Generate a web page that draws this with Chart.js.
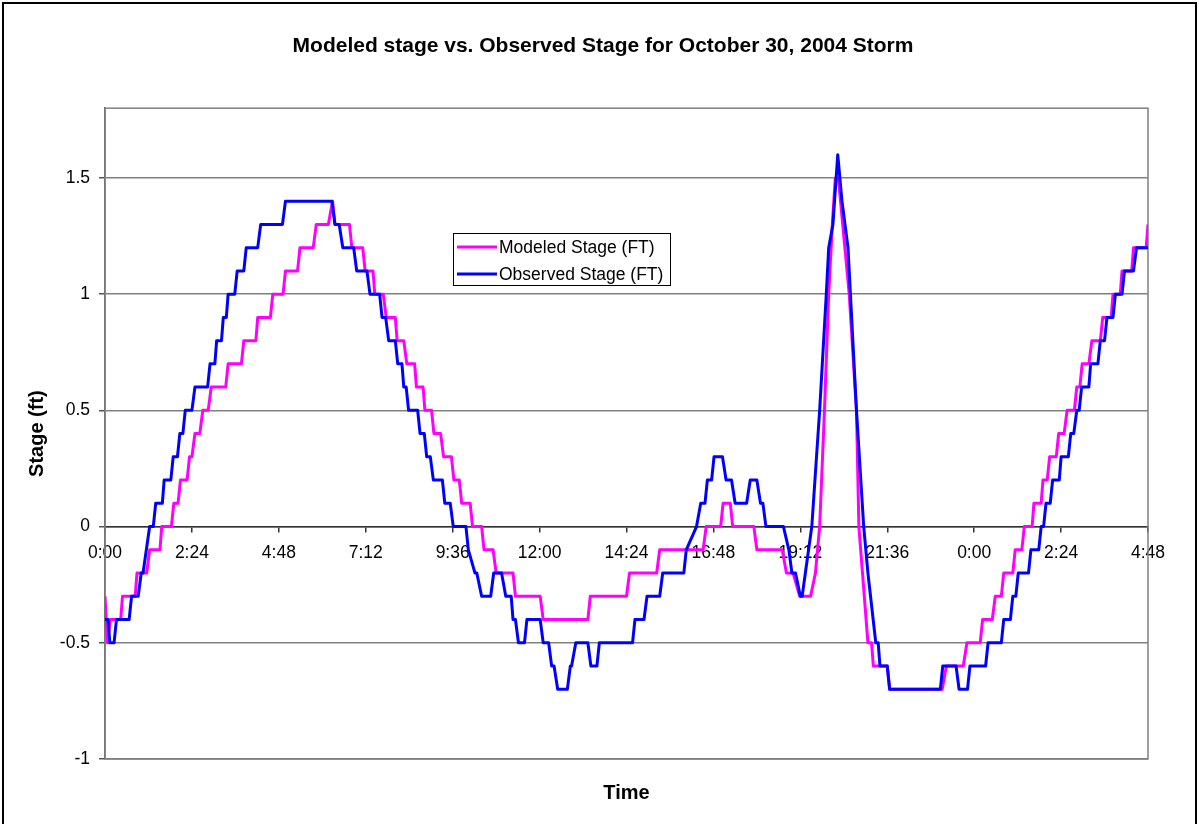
<!DOCTYPE html>
<html>
<head>
<meta charset="utf-8">
<title>Modeled vs Observed Stage</title>
<script src="https://cdn.jsdelivr.net/npm/chart.js@4.4.1/dist/chart.umd.min.js"></script>
<style>
html, body { margin: 0; padding: 0; background: #fff; overflow: hidden; }
#frame { position: absolute; left: 2px; top: 2px; width: 1195px; height: 900px; border: 2px solid #000; box-sizing: border-box; }
#wrap { position: absolute; left: 0; top: 0; width: 1199px; height: 824px; }
</style>
</head>
<body>
<div id="frame"></div>
<div id="wrap"><canvas id="stageChart" width="1199" height="824"></canvas></div>
<script>
// time in minutes from 0:00 on Oct 30, stage in ft
const obsTime = [
  0, 5, 8, 15, 19, 40, 44, 55, 60, 63,
  74, 80, 84, 95, 98, 109, 113, 120, 124, 129,
  133, 144, 149, 170, 174, 182, 185, 193, 196, 201,
  204, 215, 219, 230, 234, 253, 258, 294, 299, 376,
  381, 388, 394, 412, 417, 434, 439, 455, 459, 465,
  470, 481, 485, 492, 495, 499, 503, 518, 522, 529,
  533, 539, 544, 559, 563, 572, 577, 598, 602, 613,
  616, 624, 639, 644, 657, 664, 673, 676, 680, 685,
  695, 699, 721, 726, 735, 740, 744, 750, 766, 771,
  773, 780, 800, 805, 815, 819, 874, 878, 893, 898,
  919, 924, 959, 963, 980, 987, 994, 998, 1005, 1009,
  1023, 1029, 1038, 1044, 1063, 1069, 1080, 1086, 1090, 1095,
  1124, 1133, 1138, 1144, 1152, 1155, 1171, 1184, 1195, 1199,
  1206, 1214, 1221, 1231, 1245, 1257, 1264, 1277, 1281, 1284,
  1296, 1300, 1384, 1388, 1410, 1415, 1429, 1433, 1459, 1463,
  1485, 1489, 1500, 1504, 1509, 1513, 1530, 1534, 1547, 1551,
  1555, 1559, 1566, 1570, 1581, 1584, 1596, 1600, 1605, 1610,
  1614, 1618, 1630, 1633, 1645, 1649, 1656, 1660, 1670, 1674,
  1685, 1689, 1704, 1709, 1728
];
const obsStage = [
  -0.4, -0.4, -0.5, -0.5, -0.4, -0.4, -0.3, -0.3, -0.2, -0.2,
  0, 0, 0.1, 0.1, 0.2, 0.2, 0.3, 0.3, 0.4, 0.4,
  0.5, 0.5, 0.6, 0.6, 0.7, 0.7, 0.8, 0.8, 0.9, 0.9,
  1.0, 1.0, 1.1, 1.1, 1.2, 1.2, 1.3, 1.3, 1.4, 1.4,
  1.3, 1.3, 1.2, 1.2, 1.1, 1.1, 1.0, 1.0, 0.9, 0.9,
  0.8, 0.8, 0.7, 0.7, 0.6, 0.6, 0.5, 0.5, 0.4, 0.4,
  0.3, 0.3, 0.2, 0.2, 0.1, 0.1, 0, 0, -0.1, -0.2,
  -0.2, -0.3, -0.3, -0.2, -0.2, -0.3, -0.3, -0.4, -0.4, -0.5,
  -0.5, -0.4, -0.4, -0.5, -0.5, -0.6, -0.6, -0.7, -0.7, -0.6,
  -0.6, -0.5, -0.5, -0.6, -0.6, -0.5, -0.5, -0.4, -0.4, -0.3,
  -0.3, -0.2, -0.2, -0.1, 0, 0.1, 0.1, 0.2, 0.2, 0.3,
  0.3, 0.2, 0.2, 0.1, 0.1, 0.2, 0.2, 0.1, 0.1, 0,
  0, -0.1, -0.2, -0.2, -0.3, -0.3, 0, 0.5, 1.0, 1.2,
  1.3, 1.6, 1.4, 1.2, 0.5, 0, -0.2, -0.5, -0.5, -0.6,
  -0.6, -0.7, -0.7, -0.6, -0.6, -0.7, -0.7, -0.6, -0.6, -0.5,
  -0.5, -0.4, -0.4, -0.3, -0.3, -0.2, -0.2, -0.1, -0.1, 0,
  0, 0.1, 0.1, 0.2, 0.2, 0.3, 0.3, 0.4, 0.4, 0.5,
  0.5, 0.6, 0.6, 0.7, 0.7, 0.8, 0.8, 0.9, 0.9, 1.0,
  1.0, 1.1, 1.1, 1.2, 1.2
];

const modTime = [
  0, 4, 9, 26, 29, 50, 53, 69, 74, 91,
  94, 110, 114, 121, 125, 136, 140, 144, 149, 157,
  162, 171, 176, 200, 204, 226, 230, 250, 253, 274,
  278, 295, 299, 319, 323, 345, 350, 370, 377, 381,
  405, 409, 427, 431, 444, 447, 461, 466, 481, 484,
  495, 500, 513, 516, 527, 530, 541, 545, 556, 561,
  574, 578, 587, 591, 605, 609, 624, 628, 643, 648,
  676, 680, 721, 726, 800, 804, 864, 869, 914, 919,
  991, 996, 1020, 1024, 1036, 1040, 1075, 1080, 1122, 1129,
  1140, 1151, 1169, 1177, 1184, 1192, 1199, 1205, 1210, 1215,
  1233, 1245, 1249, 1255, 1264, 1270, 1273, 1296, 1300, 1387,
  1394, 1422, 1428, 1450, 1454, 1470, 1475, 1485, 1489, 1504,
  1508, 1519, 1523, 1536, 1539, 1551, 1554, 1561, 1565, 1576,
  1580, 1589, 1594, 1606, 1610, 1615, 1619, 1630, 1635, 1649,
  1653, 1667, 1670, 1682, 1685, 1701, 1704, 1725, 1728
];
const modStage = [
  -0.3, -0.5, -0.4, -0.4, -0.3, -0.3, -0.2, -0.2, -0.1, -0.1,
  0, 0, 0.1, 0.1, 0.2, 0.2, 0.3, 0.3, 0.4, 0.4,
  0.5, 0.5, 0.6, 0.6, 0.7, 0.7, 0.8, 0.8, 0.9, 0.9,
  1.0, 1.0, 1.1, 1.1, 1.2, 1.2, 1.3, 1.3, 1.4, 1.3,
  1.3, 1.2, 1.2, 1.1, 1.1, 1.0, 1.0, 0.9, 0.9, 0.8,
  0.8, 0.7, 0.7, 0.6, 0.6, 0.5, 0.5, 0.4, 0.4, 0.3,
  0.3, 0.2, 0.2, 0.1, 0.1, 0, 0, -0.1, -0.1, -0.2,
  -0.2, -0.3, -0.3, -0.4, -0.4, -0.3, -0.3, -0.2, -0.2, -0.1,
  -0.1, 0, 0, 0.1, 0.1, 0, 0, -0.1, -0.1, -0.2,
  -0.2, -0.3, -0.3, -0.2, 0, 0.5, 1.0, 1.3, 1.5, 1.5,
  1.0, 0.5, 0, -0.2, -0.5, -0.5, -0.6, -0.6, -0.7, -0.7,
  -0.6, -0.6, -0.5, -0.5, -0.4, -0.4, -0.3, -0.3, -0.2, -0.2,
  -0.1, -0.1, 0, 0, 0.1, 0.1, 0.2, 0.2, 0.3, 0.3,
  0.4, 0.4, 0.5, 0.5, 0.6, 0.6, 0.7, 0.7, 0.8, 0.8,
  0.9, 0.9, 1.0, 1.0, 1.1, 1.1, 1.2, 1.2, 1.3
];

const timeLabels = ["0:00", "2:24", "4:48", "7:12", "9:36", "12:00", "14:24",
  "16:48", "19:12", "21:36", "0:00", "2:24", "4:48"];

const toPoints = (ts, vs) => ts.map((t, i) => ({x: t, y: vs[i]}));

const FONT = 'Arial, "Liberation Sans", sans-serif';
Chart.defaults.font.family = FONT;
Chart.defaults.color = "#000";

// gray frame round the plot area, like Excel
const plotBorder = {
  id: "plotBorder",
  beforeDatasetsDraw(chart) {
    const {ctx, chartArea: a} = chart;
    ctx.save();
    ctx.strokeStyle = "#808080";
    ctx.lineWidth = 1.5;
    ctx.strokeRect(a.left, a.top, a.right - a.left, a.bottom - a.top);
    ctx.restore();
  }
};

// boxed legend floating inside the plot
const boxLegend = {
  id: "boxLegend",
  afterDraw(chart) {
    const ctx = chart.ctx;
    const bx = 453, by = 233, bw = 217, bh = 52;
    ctx.save();
    ctx.fillStyle = "#fff";
    ctx.fillRect(bx, by, bw, bh);
    ctx.strokeStyle = "#000";
    ctx.lineWidth = 1;
    ctx.strokeRect(bx + 0.5, by + 0.5, bw, bh);
    ctx.font = "17.5px " + FONT;
    ctx.textBaseline = "middle";
    chart.data.datasets.forEach((ds, i) => {
      const y = by + 14 + i * 27;
      ctx.strokeStyle = ds.borderColor;
      ctx.lineWidth = 3;
      ctx.beginPath();
      ctx.moveTo(bx + 4, y);
      ctx.lineTo(bx + 44, y);
      ctx.stroke();
      ctx.fillStyle = "#000";
      ctx.fillText(ds.label, bx + 46, y + 1);
    });
    ctx.restore();
  }
};

const stageChart = new Chart(document.getElementById("stageChart"), {
  type: "line",
  data: {
    datasets: [{
      label: "Modeled Stage (FT)",
      data: toPoints(modTime, modStage),
      borderColor: "#ff00ff",
      order: 1
    }, {
      label: "Observed Stage (FT)",
      data: toPoints(obsTime, obsStage),
      borderColor: "#0000ff",
      order: 0
    }]
  },
  options: {
    responsive: false,
    animation: false,
    layout: {padding: {left: 7, right: 0, top: 0, bottom: 0}},
    elements: {
      line: {borderWidth: 3, tension: 0, borderJoinStyle: "round", fill: false},
      point: {radius: 0}
    },
    plugins: {
      legend: {display: false},
      tooltip: {enabled: false},
      title: {
        display: true,
        text: "Modeled stage vs. Observed Stage for October 30, 2004 Storm",
        font: {size: 21, weight: "bold"},
        padding: {top: 34, bottom: 49}
      },
      subtitle: {
        display: true,
        position: "bottom",
        fullSize: false,
        text: "Time",
        font: {size: 20, weight: "bold"},
        padding: {top: 22, bottom: 19}
      }
    },
    scales: {
      x: {
        type: "linear",
        position: {y: 0},
        min: 0,
        max: 1728,
        grid: {drawOnChartArea: false, drawTicks: true, tickLength: 5, tickColor: "#333", lineWidth: 1.5},
        border: {color: "#333", width: 1.5},
        ticks: {
          stepSize: 144,
          autoSkip: false,
          maxRotation: 0,
          padding: 11,
          font: {size: 17.5},
          callback: (v, i) => timeLabels[i]
        }
      },
      y: {
        min: -1,
        max: 1.8,
        afterFit(s) { s.width = 98; },
        grid: {color: "#808080", lineWidth: 1.5, tickLength: 6, tickColor: "#555"},
        border: {color: "#555", width: 1.5},
        ticks: {
          stepSize: 0.5,
          includeBounds: false,
          padding: 9,
          font: {size: 17.5},
          callback: v => String(Math.round(v * 10) / 10)
        },
        title: {display: true, text: "Stage (ft)", font: {size: 20, weight: "bold"}, padding: {top: 18, bottom: 0}}
      },
      yPad: {
        position: "right",
        afterFit(s) { s.width = 51; },
        grid: {display: false},
        border: {display: false},
        ticks: {display: false}
      }
    }
  },
  plugins: [plotBorder, boxLegend]
});
</script>
</body>
</html>
